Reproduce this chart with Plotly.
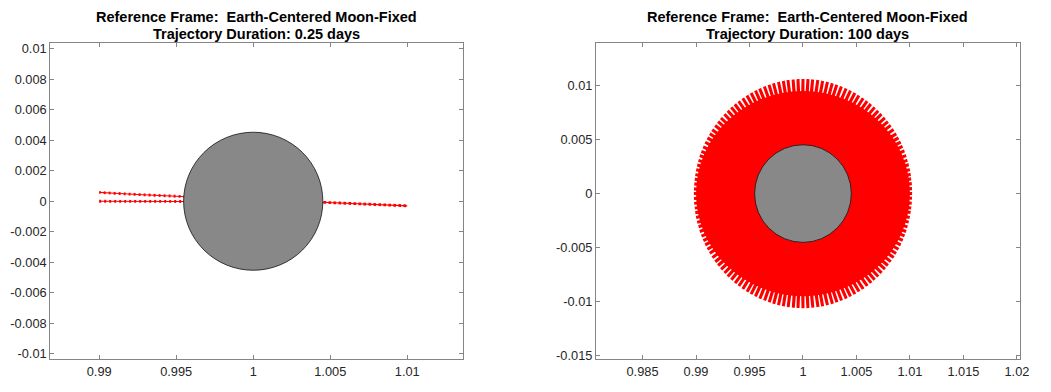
import numpy as np
import plotly.graph_objects as go

# ---- data -------------------------------------------------------------
MOON_RADIUS = 0.00452          # Moon radius in Earth-Moon distance units
MOON_CENTER = (1.0, 0.0)

# 0.25-day arc: outbound leg then return leg (Earth-centered, Moon-fixed frame)
short_x = [0.9900, 0.9915, 0.9930, 0.9945, 0.9960, 1.0000, 1.0045, 1.0060, 1.0075, 1.0090, 1.0100,
           1.0080, 1.0060, 1.0045, 1.0000, 0.9955, 0.9940, 0.9925, 0.9910, 0.9900]
short_y = [0.00000, 0.00000, 0.00000, 0.00000, -0.00001, -0.00003, -0.00007, -0.00012, -0.00018, -0.00025, -0.00030,
           -0.00020, -0.00012, -0.00007, 0.00010, 0.00028, 0.00036, 0.00044, 0.00052, 0.00058]

# 100-day arc: direction of each pass through the Moon and its turnaround distance
pass_angle_deg = [0.0, 2.5, 5.1, 7.6, 10.0, 12.5, 15.1, 17.5, 20.0, 22.6,
                  25.1, 27.5, 30.0, 32.4, 35.0, 37.6, 40.0, 42.5, 45.1, 47.5,
                  50.0, 52.6, 55.0, 57.5, 60.1, 62.5, 65.0, 67.5, 70.1, 72.6,
                  75.0, 77.5, 80.0, 82.5, 85.1, 87.5, 90.0, 92.5, 95.0, 97.6,
                  100.0, 102.5, 105.1, 107.5, 110.0, 112.6, 115.0, 117.5, 120.0, 122.5,
                  125.1, 127.6, 130.0, 132.5, 135.0, 137.6, 140.0, 142.5, 145.1, 147.5,
                  150.0, 152.5, 155.1, 157.6, 160.0, 162.5, 165.0, 167.5, 170.1, 172.5,
                  175.0, 177.6]
pass_turn_radius = [0.01020, 0.01020, 0.01021, 0.01020, 0.01022, 0.01023, 0.01024, 0.01023, 0.01026, 0.01027,
                    0.01028, 0.01030, 0.01031, 0.01032, 0.01034, 0.01035, 0.01036, 0.01038, 0.01039, 0.01041,
                    0.01042, 0.01044, 0.01045, 0.01047, 0.01048, 0.01050, 0.01051, 0.01053, 0.01054, 0.01055,
                    0.01057, 0.01058, 0.01059, 0.01060, 0.01060, 0.01061, 0.01061, 0.01061, 0.01060, 0.01060,
                    0.01059, 0.01058, 0.01057, 0.01055, 0.01054, 0.01053, 0.01051, 0.01050, 0.01048, 0.01047,
                    0.01045, 0.01044, 0.01042, 0.01041, 0.01039, 0.01038, 0.01036, 0.01035, 0.01034, 0.01032,
                    0.01031, 0.01030, 0.01028, 0.01027, 0.01026, 0.01024, 0.01023, 0.01022, 0.01021, 0.01020,
                    0.01020, 0.01020]
# densely covered core of the 100-day arc (semi-axes x, y)
core_semi_axes = (0.0100, 0.0095)

# axis ticks
left_xticks = [0.99, 0.995, 1.0, 1.005, 1.01]
left_xlabels = ["0.99", "0.995", "1", "1.005", "1.01"]
left_yticks = [-0.01, -0.008, -0.006, -0.004, -0.002, 0.0, 0.002, 0.004, 0.006, 0.008, 0.01]
left_ylabels = ["-0.01", "-0.008", "-0.006", "-0.004", "-0.002", "0", "0.002", "0.004", "0.006", "0.008", "0.01"]
right_xticks = [0.985, 0.99, 0.995, 1.0, 1.005, 1.01, 1.015, 1.02]
right_xlabels = ["0.985", "0.99", "0.995", "1", "1.005", "1.01", "1.015", "1.02"]
right_yticks = [-0.015, -0.01, -0.005, 0.0, 0.005, 0.01]
right_ylabels = ["-0.015", "-0.01", "-0.005", "0", "0.005", "0.01"]

titles = [("Reference Frame:\u00a0 Earth-Centered Moon-Fixed", "Trajectory Duration: 0.25 days"),
          ("Reference Frame:\u00a0 Earth-Centered Moon-Fixed", "Trajectory Duration: 100 days")]

# ---- build the long-arc polyline: alternate turnaround points on each side
long_x, long_y = [], []
cx, cy = MOON_CENTER
for ang, r in zip(pass_angle_deg, pass_turn_radius):
    for a in (ang, ang + 180.0):
        t = np.deg2rad(a)
        long_x.append(cx + r * np.cos(t))
        long_y.append(cy + r * np.sin(t))

RED = "#ff0000"
fig = go.Figure()

# left panel: thin path with beaded overlay
fig.add_trace(go.Scatter(x=short_x, y=short_y, mode="lines",
                         line=dict(color=RED, width=1.1),
                         xaxis="x", yaxis="y", hoverinfo="skip"))
fig.add_trace(go.Scatter(x=short_x, y=short_y, mode="lines",
                         line=dict(color=RED, width=2.8, dash="2px,3px"),
                         xaxis="x", yaxis="y", hoverinfo="skip"))

# right panel
fig.add_trace(go.Scatter(x=long_x, y=long_y, mode="lines",
                         line=dict(color=RED, width=3),
                         xaxis="x2", yaxis="y2", hoverinfo="skip"))

shapes = [
    dict(type="circle", xref="x2", yref="y2", layer="below",
         x0=cx - core_semi_axes[0], x1=cx + core_semi_axes[0],
         y0=cy - core_semi_axes[1], y1=cy + core_semi_axes[1],
         fillcolor=RED, line=dict(width=0)),
]
for xr, yr in (("x", "y"), ("x2", "y2")):
    shapes.append(dict(type="circle", xref=xr, yref=yr, layer="above",
                       x0=cx - MOON_RADIUS, x1=cx + MOON_RADIUS,
                       y0=cy - MOON_RADIUS, y1=cy + MOON_RADIUS,
                       fillcolor="#888888", line=dict(color="#111111", width=0.8)))

W, H = 1051, 392
TICK_FONT = dict(family="Liberation Sans, Arial, sans-serif", size=12.8, color="#262626")
LINE_COL = "#858585"

def axis(domain, rng, vals, labels):
    return dict(domain=domain, range=rng, tickvals=vals, ticktext=labels,
                showgrid=False, zeroline=False, showline=True, linecolor=LINE_COL,
                linewidth=1, mirror="allticks", ticks="inside", ticklen=4,
                tickcolor=LINE_COL, tickfont=TICK_FONT, fixedrange=True)

y_dom = [1 - 363 / H, 1 - 42 / H]
left_dom = [50.7 / W, 467.3 / W]
right_dom = [601.7 / W, 1029.3 / W]

annotations = []
for dom, (l1, l2) in zip((left_dom, right_dom), titles):
    xc = (dom[0] + dom[1]) / 2
    for txt, ypx in ((l1, 15), (l2, 33)):
        annotations.append(dict(text="<b>" + txt + "</b>", x=xc, y=1 - ypx / H,
                                xref="paper", yref="paper", xanchor="center", yanchor="middle",
                                showarrow=False,
                                font=dict(family="Liberation Sans, Arial, sans-serif",
                                          size=14.5, color="#000000")))

fig.update_layout(
    width=W, height=H, margin=dict(l=0, r=0, t=0, b=0),
    paper_bgcolor="white", plot_bgcolor="white", showlegend=False,
    xaxis=axis(left_dom, [0.98682, 1.01361], left_xticks, left_xlabels) | dict(anchor="y"),
    yaxis=axis(y_dom, [-0.01036, 0.01034], left_yticks, left_ylabels) | dict(anchor="x"),
    xaxis2=axis(right_dom, [0.98065, 1.02024], right_xticks, right_xlabels) | dict(anchor="y2"),
    yaxis2=axis(y_dom, [-0.01536, 0.01391], right_yticks, right_ylabels) | dict(anchor="x2"),
    shapes=shapes, annotations=annotations,
)

fig.write_html("out.html", config={"displayModeBar": False})
